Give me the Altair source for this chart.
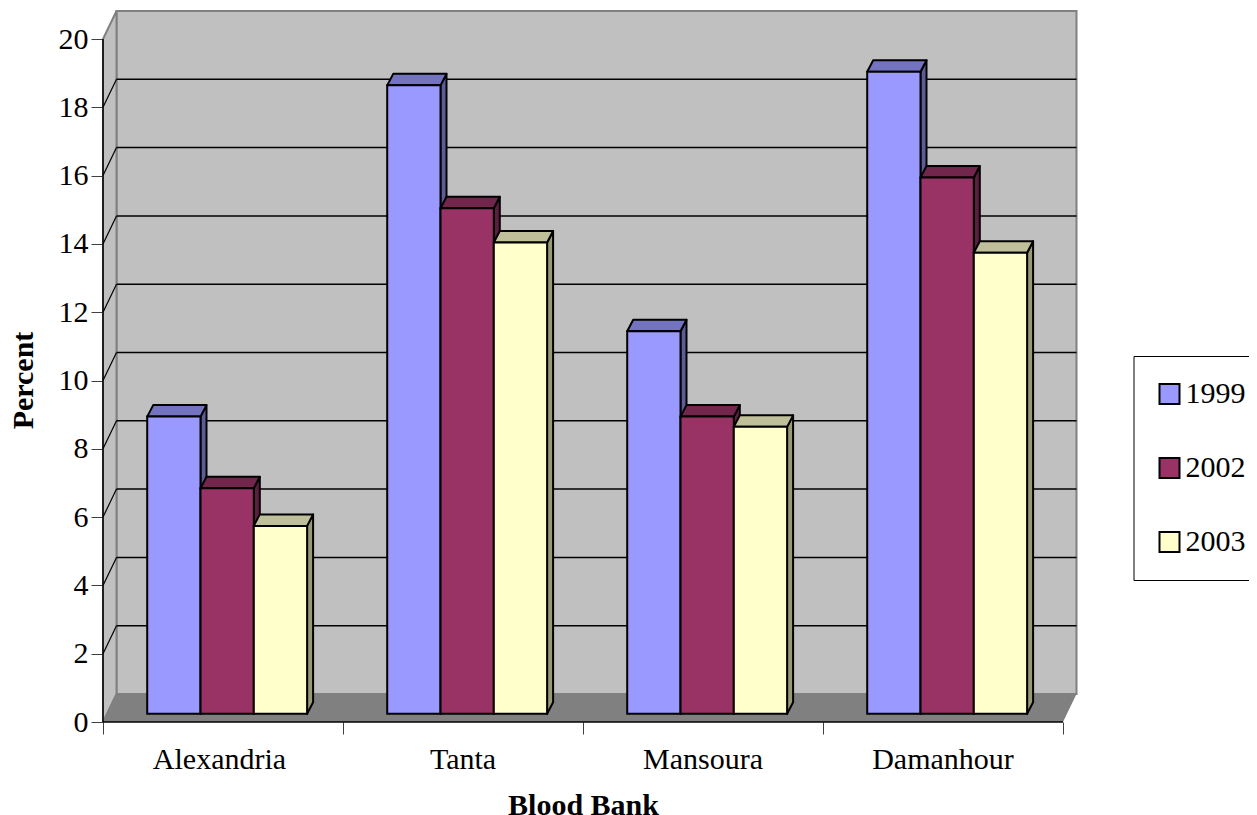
import altair as alt
import pandas as pd

# ---- values ----
categories = ["Alexandria", "Tanta", "Mansoura", "Damanhour"]
years = ["1999", "2002", "2003"]
values_1999 = [8.7, 18.4, 11.2, 18.8]
values_2002 = [6.6, 14.8, 8.7, 15.7]
values_2003 = [5.5, 13.8, 8.4, 13.5]
y_ticks = [0, 2, 4, 6, 8, 10, 12, 14, 16, 18, 20]

# ---- styles ----
front = ["#9999FF", "#993366", "#FFFFCC"]
top = ["#7373BF", "#73264C", "#BFBF99"]
side = ["#5C5C99", "#5C1F3D", "#999977"]
FONT = "Liberation Serif"
FS = 30
label_shift_px = [-3.5, 0, 0, 0]

# ---- geometry, in data units (one x unit = one category) ----
PX_X = 240.0
PX_Y = 34.15
W, H = 974, 710
xs = alt.Scale(domain=[0, W / PX_X], nice=False, zero=False)
ys = alt.Scale(domain=[0, H / PX_Y], nice=False, zero=False)
N = len(categories)
YMAX = y_ticks[-1]
WALL_DX = 13.5 / PX_X
WALL_DY = 28 / PX_Y
BAR_DX = 6 / PX_X
BAR_DY = 11.5 / PX_Y
BAR_BASE = 8.3 / PX_Y
BAR_START = 44.2 / PX_X
BAR_W = 53.3 / PX_X

x_axis = alt.Axis(values=list(range(N + 1)), labels=False, grid=False, domain=False,
                  tickSize=12, tickColor="#404040", tickWidth=1,
                  title="Blood Bank", titleFont=FONT, titleFontSize=FS, titleFontWeight="bold",
                  titleColor="black", titleX=480, titleY=83, titleBaseline="middle")
y_axis = alt.Axis(values=y_ticks, grid=False, domain=False, tickSize=12, tickColor="#404040", tickWidth=1,
                  labelFont=FONT, labelFontSize=FS, labelColor="black", labelPadding=3,
                  title="Percent", titleFont=FONT, titleFontSize=FS, titleFontWeight="bold",
                  titleColor="black", titleX=-80, titleY=368, titleBaseline="middle")


def X(f="x"):
    return alt.X(f"{f}:Q", scale=xs, axis=x_axis, stack=None)


def Y(f="y"):
    return alt.Y(f"{f}:Q", scale=ys, axis=y_axis, stack=None)


# walls
back = alt.Chart(pd.DataFrame([{"x": WALL_DX, "x2": N + WALL_DX, "y": WALL_DY, "y2": YMAX + WALL_DY}])).mark_rect(
    fill="#C0C0C0", stroke="#808080", strokeWidth=2
).encode(x=X(), x2="x2:Q", y=Y(), y2="y2:Q")

left_wall = alt.Chart(pd.DataFrame([
    {"x": 0, "y": 0, "y2": YMAX},
    {"x": WALL_DX, "y": WALL_DY, "y2": YMAX + WALL_DY},
])).mark_area(fill="#C0C0C0", stroke="#808080", strokeWidth=2, opacity=1).encode(x=X(), y=Y(), y2="y2:Q")

floor = alt.Chart(pd.DataFrame([
    {"y": 0, "x": 0, "x2": N},
    {"y": WALL_DY, "x": WALL_DX, "x2": N + WALL_DX},
])).mark_area(fill="#808080", orient="horizontal", opacity=1).encode(x=X(), x2="x2:Q", y=Y())

inner = [t for t in y_ticks if 0 < t < YMAX]
grid = alt.Chart(pd.DataFrame([{"x": WALL_DX, "x2": N + WALL_DX, "y": t + WALL_DY} for t in inner])).mark_rule(
    color="black", strokeWidth=1.5
).encode(x=X(), x2="x2:Q", y=Y())

slants = alt.Chart(pd.DataFrame(
    [{"t": t, "x": 0, "y": t} for t in inner] + [{"t": t, "x": WALL_DX, "y": t + WALL_DY} for t in inner]
)).mark_line(color="black", strokeWidth=1.2).encode(x=X(), y=Y(), detail="t:N")

layers = [back, left_wall, floor, grid, slants]

# bars, back-to-front for each series
series = [values_1999, values_2002, values_2003]
legend = alt.Legend(title=None, orient="none", legendX=1030.5, legendY=344, padding=23,
                    fillColor="white", strokeColor="black", symbolType="square", symbolSize=400,
                    symbolStrokeColor="black", symbolStrokeWidth=2, symbolOpacity=1, symbolOffset=-2,
                    labelFont=FONT, labelFontSize=FS, labelColor="black", labelOffset=1,
                    rowPadding=44, offset=0)
for j, (yr, vals) in enumerate(zip(years, series)):
    f_rows, s_rows, t_rows = [], [], []
    for i, v in enumerate(vals):
        x0 = i + BAR_START + j * BAR_W
        x1 = x0 + BAR_W
        y0 = BAR_BASE
        y1 = BAR_BASE + v
        f_rows.append({"year": yr, "x": x0, "x2": x1, "y": y0, "y2": y1})
        s_rows += [{"b": i, "x": x1, "y": y0, "y2": y1},
                   {"b": i, "x": x1 + BAR_DX, "y": y0 + BAR_DY, "y2": y1 + BAR_DY}]
        t_rows += [{"b": i, "y": y1, "x": x0, "x2": x1},
                   {"b": i, "y": y1 + BAR_DY, "x": x0 + BAR_DX, "x2": x1 + BAR_DX}]
    layers.append(alt.Chart(pd.DataFrame(s_rows)).mark_area(
        fill=side[j], stroke="black", strokeWidth=2, opacity=1, strokeJoin="round"
    ).encode(x=X(), y=Y(), y2="y2:Q", detail="b:N"))
    layers.append(alt.Chart(pd.DataFrame(t_rows)).mark_area(
        fill=top[j], stroke="black", strokeWidth=2, opacity=1, orient="horizontal", strokeJoin="round"
    ).encode(x=X(), x2="x2:Q", y=Y(), detail="b:N"))
    layers.append(alt.Chart(pd.DataFrame(f_rows)).mark_rect(stroke="black", strokeWidth=2, opacity=1).encode(
        x=X(), x2="x2:Q", y=Y(), y2="y2:Q",
        fill=alt.Fill("year:N", scale=alt.Scale(domain=years, range=front), legend=legend),
    ))

# axis lines
axis_x = alt.Chart(pd.DataFrame([{"x": 0, "x2": N, "y": 0}])).mark_rule(color="black", strokeWidth=1.5).encode(
    x=X(), x2="x2:Q", y=Y())
axis_y = alt.Chart(pd.DataFrame([{"x": 0, "y": 0, "y2": YMAX}])).mark_rule(color="black", strokeWidth=1.5).encode(
    x=X(), y=Y(), y2="y2:Q")
layers += [axis_x, axis_y]

# category labels
labels = alt.Chart(pd.DataFrame([
    {"name": c, "x": i + 0.5 + label_shift_px[i] / PX_X, "y": -38 / PX_Y} for i, c in enumerate(categories)
])).mark_text(font=FONT, fontSize=FS, color="black", baseline="middle", align="center", clip=False).encode(
    x=X(), y=Y(), text="name:N")
layers.append(labels)

chart = alt.layer(*layers).properties(
    width=W, height=H,
    autosize=alt.AutoSizeParams(type="none", contains="content"),
    padding={"left": 95, "top": 4, "right": 172, "bottom": 100},
    background="white",
).configure_view(stroke=None)

chart.save("out.html", embed_options={"renderer": "svg", "actions": False})
